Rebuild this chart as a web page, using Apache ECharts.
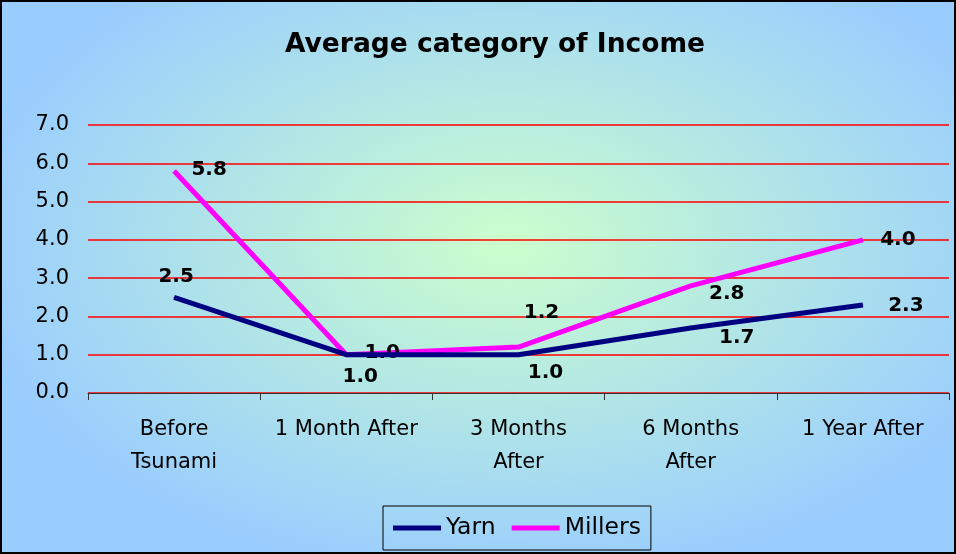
<!DOCTYPE html>
<html>
<head>
<meta charset="utf-8">
<script src="https://cdn.jsdelivr.net/npm/echarts@6/dist/echarts.min.js"></script>
<style>
  html, body { margin: 0; padding: 0; }
  #chart {
    width: 952px; height: 550px;
    border: 2px solid #000;
    background: radial-gradient(ellipse 58% 62% at 53% 44%, #ccffcc 0%, #b4e8e4 45%, #99ccff 100%);
  }
</style>
</head>
<body>
<div id="chart"></div>
<script>
let categories = ['Before\nTsunami', '1 Month After', '3 Months\nAfter', '6 Months\nAfter', '1 Year After']
let yarn = [2.5, 1.0, 1.0, 1.7, 2.3]
let millers = [5.8, 1.0, 1.2, 2.8, 4.0]

// label offsets for each point (px, relative to the point)
let yarnOffsets = [[2, -20], [14, 22], [27, 18], [46, 10], [43, 1]]
let millerOffsets = [[35, -1], [36, -2], [23, -34], [36, 8], [35, 0]]

let font = 'DejaVu Sans'

function points(vals, offs) {
  return vals.map(function (v, i) {
    return { value: v, label: { offset: offs[i] } }
  })
}

let myChart = echarts.init(document.getElementById('chart'))

let labelStyle = {
  show: true,
  position: 'inside',
  fontFamily: font,
  fontWeight: 'bold',
  fontSize: 20,
  color: '#000',
  formatter: function (p) { return p.value.toFixed(1) }
}

let option = {
  animation: false,
  title: {
    text: 'Average category of Income',
    left: 278,
    top: 25,
    textStyle: { fontFamily: font, fontWeight: 'bold', fontSize: 26.5, color: '#000' }
  },
  grid: { left: 86, right: 5, top: 123, bottom: 159 },
  xAxis: {
    type: 'category',
    data: categories,
    boundaryGap: true,
    axisLine: { lineStyle: { color: '#333', width: 1 } },
    axisTick: { show: true, length: 7, lineStyle: { color: '#333' } },
    axisLabel: {
      interval: 0, margin: 20,
      fontFamily: font, fontSize: 21, color: '#000', lineHeight: 33
    }
  },
  yAxis: {
    type: 'value',
    min: 0, max: 7, interval: 1,
    axisLine: { show: false },
    axisTick: { show: false },
    splitLine: { lineStyle: { color: '#ff0000', width: 1.5 } },
    axisLabel: {
      margin: 19,
      fontFamily: font, fontSize: 21, color: '#000',
      formatter: function (v) { return v.toFixed(1) }
    }
  },
  legend: {
    left: 381, top: 504,
    padding: [10, 10, 10, 10],
    borderColor: '#000', borderWidth: 1,
    itemWidth: 48, itemHeight: 5, itemGap: 16,
    icon: 'rect',
    textStyle: { fontFamily: font, fontSize: 23.5, color: '#000' },
    data: ['Yarn', 'Millers']
  },
  series: [{
    name: 'Yarn',
    type: 'line',
    data: points(yarn, yarnOffsets),
    symbol: 'circle', symbolSize: 1,
    showSymbol: true,
    itemStyle: { color: '#000080' },
    lineStyle: { color: '#000080', width: 5 },
    label: labelStyle,
    z: 3
  }, {
    name: 'Millers',
    type: 'line',
    data: points(millers, millerOffsets),
    symbol: 'circle', symbolSize: 1,
    showSymbol: true,
    itemStyle: { color: '#ff00ff' },
    lineStyle: { color: '#ff00ff', width: 5 },
    label: labelStyle,
    z: 2
  }]
}

myChart.setOption(option)
</script>
</body>
</html>
